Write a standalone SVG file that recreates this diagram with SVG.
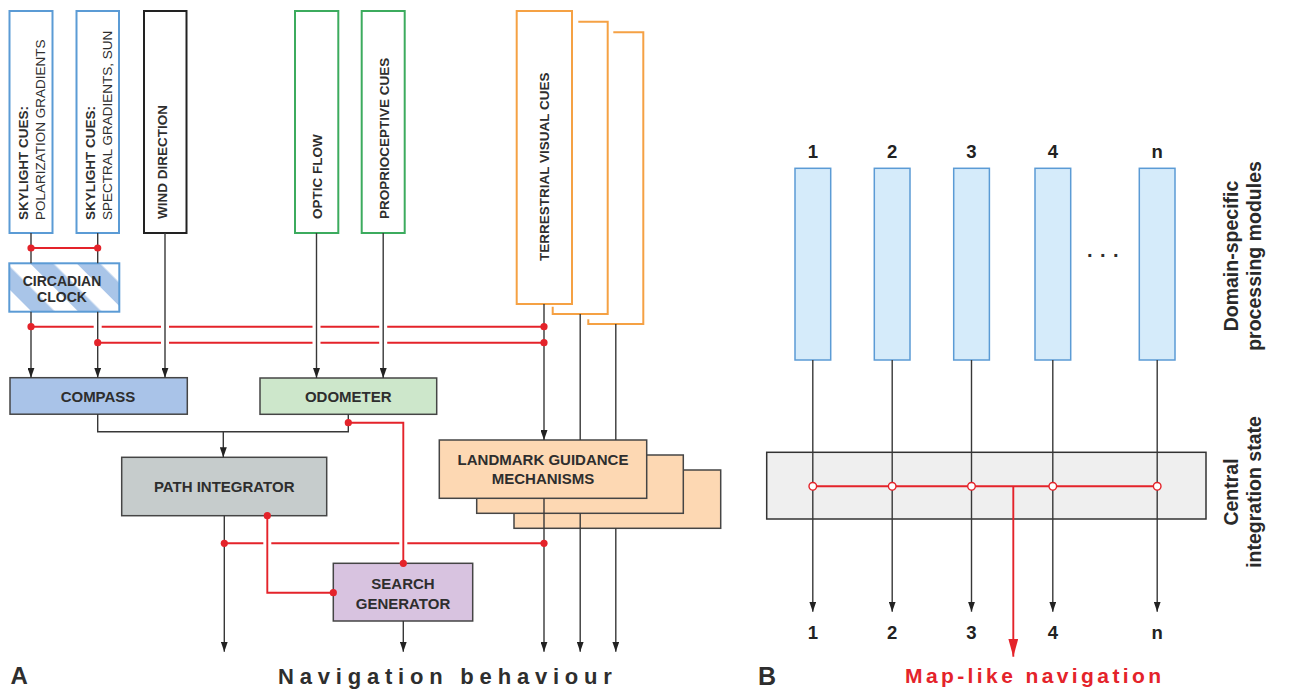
<svg xmlns="http://www.w3.org/2000/svg" width="1298" height="691" viewBox="0 0 1298 691">
<defs>
<style>
.t{font-family:"Liberation Sans",Arial,Helvetica,sans-serif;fill:#2e2e2e}
.b{font-weight:bold}
.vt{font-size:13.5px}
.lbl{font-size:15px;font-weight:bold;text-anchor:middle}
.num{font-size:18.5px;font-weight:bold;text-anchor:middle;fill:#222}
.side{font-size:19.5px;font-weight:bold;text-anchor:middle;fill:#2a2a2a}
.k{stroke:#383838;stroke-width:1.4;fill:none}
.r{stroke:#e4232a;stroke-width:1.9;fill:none}
.halo{stroke:#fff;stroke-width:8;fill:none}
.dot{fill:#e4232a}
.odot{fill:#fff;stroke:#e4232a;stroke-width:1.4}
.box{stroke:#454545;stroke-width:1.5}
.inB{fill:#fff;stroke:#5b9bd5;stroke-width:2}
.inG{fill:#fff;stroke:#3cab5e;stroke-width:2}
.inK{fill:#fff;stroke:#222;stroke-width:2}
.inO{fill:#fff;stroke:#f5a144;stroke-width:2}
.mod{fill:#d5ebfa;stroke:#5b9bd5;stroke-width:1.5}
</style>
<marker id="ah" viewBox="0 0 10 7" refX="10" refY="3.5" markerWidth="10" markerHeight="7" markerUnits="userSpaceOnUse" orient="auto">
<path d="M0,0 L10,3.5 L0,7 Z" fill="#222"/>
</marker>
<marker id="ahr" viewBox="0 0 18 10" refX="18" refY="5" markerWidth="18" markerHeight="10" markerUnits="userSpaceOnUse" orient="auto">
<path d="M0,0 L18,5 L0,10 Z" fill="#e4232a"/>
</marker>
<pattern id="stripes" width="33" height="33" patternUnits="userSpaceOnUse" patternTransform="rotate(-45)">
<rect width="33" height="33" fill="#fff"/>
<rect width="16.5" height="33" fill="#a9c5e8"/>
</pattern>
</defs>
<rect width="1298" height="691" fill="#fff"/>

<!-- Panel A input nodes -->
<g id="skylight-polarization">
<rect class="inB" x="9.5" y="11" width="43" height="222"/>
<text class="t b vt" transform="translate(28,220) rotate(-90)">SKYLIGHT CUES:</text>
<text class="t vt" transform="translate(45,220) rotate(-90)">POLARIZATION GRADIENTS</text>
</g>
<g id="skylight-spectral">
<rect class="inB" x="76.5" y="11" width="42.5" height="222"/>
<text class="t b vt" transform="translate(95,220) rotate(-90)">SKYLIGHT CUES:</text>
<text class="t vt" transform="translate(112,220) rotate(-90)">SPECTRAL GRADIENTS, SUN</text>
</g>
<g id="wind-direction">
<rect class="inK" x="144" y="11" width="42.5" height="222"/>
<text class="t b vt" transform="translate(167,219) rotate(-90)">WIND DIRECTION</text>
</g>
<g id="optic-flow">
<rect class="inG" x="295" y="11" width="43.3" height="222"/>
<text class="t b vt" transform="translate(322,219) rotate(-90)">OPTIC FLOW</text>
</g>
<g id="proprioceptive-cues">
<rect class="inG" x="361.7" y="11" width="43" height="222"/>
<text class="t b vt" transform="translate(388.5,219) rotate(-90)">PROPRIOCEPTIVE CUES</text>
</g>
<g id="terrestrial-visual-cues">
<path class="inO" d="M613.3,32.3 H643.3 V324 H588.3 V319.3" style="fill:none"/>
<path class="inO" d="M578.3,21.7 H607.7 V314 H552.7 V306.7" style="fill:none"/>
<rect class="inO" x="516.7" y="11" width="55.3" height="293"/>
<text class="t b vt" transform="translate(548.5,261) rotate(-90)">TERRESTRIAL VISUAL CUES</text>
</g>
<g id="circadian-clock">
<rect x="9.3" y="263.3" width="110" height="48.4" fill="url(#stripes)" stroke="#5b9bd5" stroke-width="2"/>
<text class="t b" font-size="14" text-anchor="middle" x="62" y="285.5">CIRCADIAN</text>
<text class="t b" font-size="14" text-anchor="middle" x="62" y="301.5">CLOCK</text>
</g>
<g id="compass">
<rect class="box" x="10" y="377.7" width="177.3" height="36.5" fill="#a9c3e8"/>
<text class="t lbl" x="98" y="402">COMPASS</text>
</g>
<g id="odometer">
<rect class="box" x="260" y="378" width="176.7" height="36.3" fill="#cde7cb"/>
<text class="t lbl" x="348.3" y="402">ODOMETER</text>
</g>
<g id="path-integrator">
<rect class="box" x="121.7" y="457.3" width="205" height="58.4" fill="#c6cccc"/>
<text class="t lbl" x="224.2" y="492">PATH INTEGRATOR</text>
</g>
<g id="search-generator">
<rect class="box" x="333.3" y="563.3" width="139.4" height="57.7" fill="#d8c3e0"/>
<text class="t lbl" x="403" y="589">SEARCH</text>
<text class="t lbl" x="403" y="608.5">GENERATOR</text>
</g>
<g id="landmark-guidance">
<rect class="box" x="514" y="470" width="206.7" height="58.3" fill="#fdd8b3"/>
<rect class="box" x="476.7" y="455" width="206.6" height="58.3" fill="#fdd8b3"/>
<rect class="box" x="439.3" y="440" width="207.4" height="58.3" fill="#fdd8b3"/>
<text class="t lbl" x="543" y="465">LANDMARK GUIDANCE</text>
<text class="t lbl" x="543" y="484">MECHANISMS</text>
</g>

<!-- Panel B nodes -->
<g id="central-integration">
<rect x="766.7" y="452.3" width="439.3" height="66.7" fill="#efefef" stroke="#333" stroke-width="1.5"/>
</g>
<g id="module-1"><rect class="mod" x="795" y="168.3" width="35.7" height="191.7"/><text class="t num" x="812.8" y="158">1</text></g>
<g id="module-2"><rect class="mod" x="874.3" y="168.3" width="35.7" height="191.7"/><text class="t num" x="892.2" y="158">2</text></g>
<g id="module-3"><rect class="mod" x="953.7" y="168.3" width="35.7" height="191.7"/><text class="t num" x="971.5" y="158">3</text></g>
<g id="module-4"><rect class="mod" x="1035" y="168.3" width="35.7" height="191.7"/><text class="t num" x="1052.8" y="158">4</text></g>
<g id="module-n"><rect class="mod" x="1139.3" y="168.3" width="35.7" height="191.7"/><text class="t num" x="1157.2" y="158">n</text></g>
<g id="outputs-b">
<text class="t num" x="812.8" y="639">1</text>
<text class="t num" x="892.2" y="639">2</text>
<text class="t num" x="971.5" y="639">3</text>
<text class="t num" x="1052.8" y="639">4</text>
<text class="t num" x="1157.2" y="639">n</text>
</g>

<!-- Connectors -->
<g id="connectors">
<path class="r" d="M31,326.7 H544"/>
<path class="r" d="M97.7,342.7 H544"/>
<path class="r" d="M224.3,543.3 H544"/>
<path class="r" d="M31,248 H97.7"/>
<path class="halo" d="M97.7,321 V332"/>
<path class="halo" d="M165,320 V349"/>
<path class="halo" d="M316.5,320 V349"/>
<path class="halo" d="M383.2,320 V349"/>
<path class="halo" d="M267.3,538 V549"/>
<path class="halo" d="M403.3,538 V549"/>

<path class="k" d="M31,233 V263.3"/>
<path class="k" d="M97.7,233 V263.3"/>
<path class="k" d="M31,311.7 V377.7" marker-end="url(#ah)"/>
<path class="k" d="M97.7,311.7 V377.7" marker-end="url(#ah)"/>
<path class="k" d="M165,233 V377.7" marker-end="url(#ah)"/>
<path class="k" d="M316.5,233 V378" marker-end="url(#ah)"/>
<path class="k" d="M383.2,233 V378" marker-end="url(#ah)"/>
<path class="k" d="M544,304 V440" marker-end="url(#ah)"/>
<path class="k" d="M580.2,314 V440"/>
<path class="k" d="M615.8,324 V440"/>
<path class="k" d="M97.7,414 V431.7 H348.3 V414.3"/>
<path class="k" d="M223.3,431.7 V457.3" marker-end="url(#ah)"/>
<path class="k" d="M224.3,515.7 V651.7" marker-end="url(#ah)"/>
<path class="k" d="M403.3,621 V651.7" marker-end="url(#ah)"/>
<path class="k" d="M544,498.3 V651.7" marker-end="url(#ah)"/>
<path class="k" d="M580.2,513.3 V651.7" marker-end="url(#ah)"/>
<path class="k" d="M615.8,528.3 V651.7" marker-end="url(#ah)"/>

<path class="r" d="M348.3,422.7 H403.3 V563.3"/>
<path class="r" d="M267.3,515.7 V592.7 H333.3"/>

<circle class="dot" cx="31" cy="248" r="3.6"/>
<circle class="dot" cx="97.7" cy="248" r="3.6"/>
<circle class="dot" cx="31" cy="326.7" r="3.6"/>
<circle class="dot" cx="544" cy="326.7" r="3.6"/>
<circle class="dot" cx="97.7" cy="342.7" r="3.6"/>
<circle class="dot" cx="544" cy="342.7" r="3.6"/>
<circle class="dot" cx="348.3" cy="422.7" r="3.6"/>
<circle class="dot" cx="403.3" cy="563.3" r="3.6"/>
<circle class="dot" cx="267.3" cy="515.7" r="3.6"/>
<circle class="dot" cx="333.3" cy="592.7" r="3.6"/>
<circle class="dot" cx="224.3" cy="543.3" r="3.6"/>
<circle class="dot" cx="544" cy="543.3" r="3.6"/>

<path class="k" d="M812.8,360 V611.7" marker-end="url(#ah)"/>
<path class="k" d="M892.2,360 V611.7" marker-end="url(#ah)"/>
<path class="k" d="M971.5,360 V611.7" marker-end="url(#ah)"/>
<path class="k" d="M1052.8,360 V611.7" marker-end="url(#ah)"/>
<path class="k" d="M1157.2,360 V611.7" marker-end="url(#ah)"/>
<path class="r" stroke-width="1.6" d="M812.8,486.3 H1157.2"/>
<path class="r" stroke-width="1.8" d="M1013.3,486.3 V656.7" marker-end="url(#ahr)"/>
<circle class="odot" cx="812.8" cy="486.3" r="3.8"/>
<circle class="odot" cx="892.2" cy="486.3" r="3.8"/>
<circle class="odot" cx="971.5" cy="486.3" r="3.8"/>
<circle class="odot" cx="1052.8" cy="486.3" r="3.8"/>
<circle class="odot" cx="1157.2" cy="486.3" r="3.8"/>
</g>

<!-- Labels -->
<text class="t b" font-size="24" x="10.5" y="684" fill="#222">A</text>
<text class="t b" font-size="22" x="278" y="684" letter-spacing="5.8" fill="#222">Navigation behaviour</text>
<text class="t b" font-size="25" x="758" y="685" fill="#222">B</text>
<text class="t b" font-size="21" x="905" y="683" letter-spacing="3.4" style="fill:#e4232a">Map-like navigation</text>
<text class="t b" font-size="20" x="1087" y="257" letter-spacing="7.5" fill="#222">...</text>
<text class="t side" transform="translate(1237.5,256) rotate(-90)">Domain-specific</text>
<text class="t side" transform="translate(1261,256) rotate(-90)">processing modules</text>
<text class="t side" transform="translate(1237.5,492) rotate(-90)">Central</text>
<text class="t side" transform="translate(1261,492) rotate(-90)">integration state</text>
</svg>
